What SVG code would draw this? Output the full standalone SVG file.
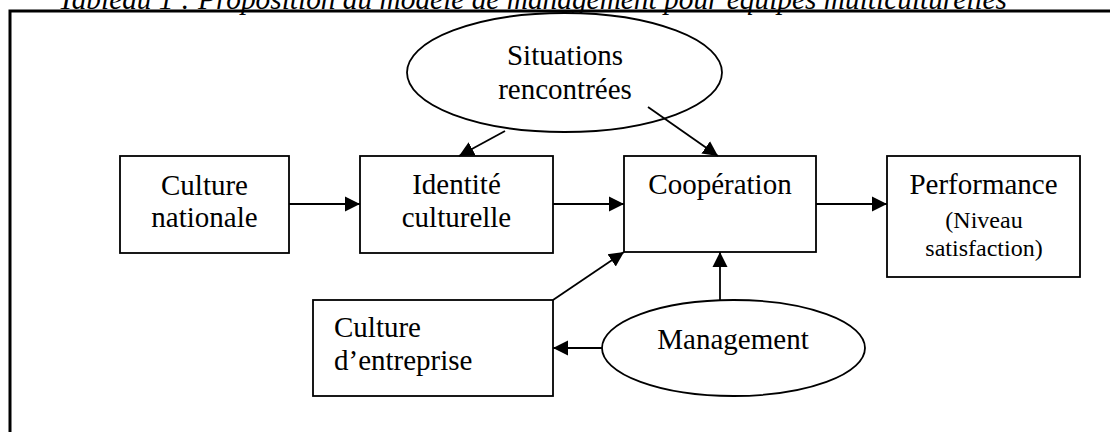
<svg xmlns="http://www.w3.org/2000/svg" width="1110" height="432" viewBox="0 0 1110 432">
<style>
text{font-family:"Liberation Serif","Times New Roman",serif;font-size:29px;fill:#000}
.c{text-anchor:middle}
.s{font-size:24px}
.cap{font-style:italic}
.box{fill:#fff;stroke:#000;stroke-width:1.8}
.ln{fill:none;stroke:#000;stroke-width:1.8}
</style>
<defs>
<marker id="ah" markerUnits="userSpaceOnUse" markerWidth="16" markerHeight="16" viewBox="0 0 16 16" refX="15" refY="8" orient="auto">
<path d="M0,0.5 L15,8 L0,15.5 Z" fill="#000"/>
</marker>
</defs>
<rect width="1110" height="432" fill="#fff"/>
<text class="cap" x="58" y="9" textLength="949" lengthAdjust="spacingAndGlyphs">Tableau 1 : Proposition du modèle de management pour équipes multiculturelles</text>
<path d="M10,440 V11 H1120" fill="none" stroke="#000" stroke-width="3"/>
<g id="situations">
<ellipse class="box" cx="564.5" cy="72.5" rx="157.5" ry="59.5"/>
<text class="c" x="565" y="65">Situations</text>
<text class="c" x="565" y="99">rencontrées</text>
</g>
<g id="culture-nationale">
<rect class="box" x="120" y="156" width="169" height="97"/>
<text class="c" x="204.5" y="195">Culture</text>
<text class="c" x="204.5" y="227">nationale</text>
</g>
<g id="identite">
<rect class="box" x="360" y="156" width="193" height="97"/>
<text class="c" x="456.5" y="194">Identité</text>
<text class="c" x="456.5" y="227">culturelle</text>
</g>
<g id="cooperation">
<rect class="box" x="624" y="156" width="192" height="96"/>
<text class="c" x="720" y="194">Coopération</text>
</g>
<g id="performance">
<rect class="box" x="887" y="156" width="193" height="121"/>
<text class="c" x="983.5" y="194">Performance</text>
<text class="c s" x="984" y="228">(Niveau</text>
<text class="c s" x="984" y="256">satisfaction)</text>
</g>
<g id="culture-entreprise">
<rect class="box" x="313" y="300" width="240" height="96"/>
<text x="334" y="337">Culture</text>
<text x="334" y="370">d’entreprise</text>
</g>
<g id="management">
<ellipse class="box" cx="733.5" cy="348" rx="131.5" ry="48"/>
<text class="c" x="733" y="349">Management</text>
</g>
<g id="connectors">
<line class="ln" x1="289" y1="204" x2="360" y2="204" marker-end="url(#ah)"/>
<line class="ln" x1="553" y1="204" x2="624" y2="204" marker-end="url(#ah)"/>
<line class="ln" x1="816" y1="204" x2="887" y2="204" marker-end="url(#ah)"/>
<line class="ln" x1="505" y1="131" x2="459" y2="156" marker-end="url(#ah)"/>
<line class="ln" x1="648" y1="107" x2="718" y2="156" marker-end="url(#ah)"/>
<line class="ln" x1="553" y1="300" x2="624" y2="252" marker-end="url(#ah)"/>
<line class="ln" x1="720" y1="300" x2="720" y2="252" marker-end="url(#ah)"/>
<line class="ln" x1="602" y1="348" x2="553" y2="348" marker-end="url(#ah)"/>
</g>
</svg>
